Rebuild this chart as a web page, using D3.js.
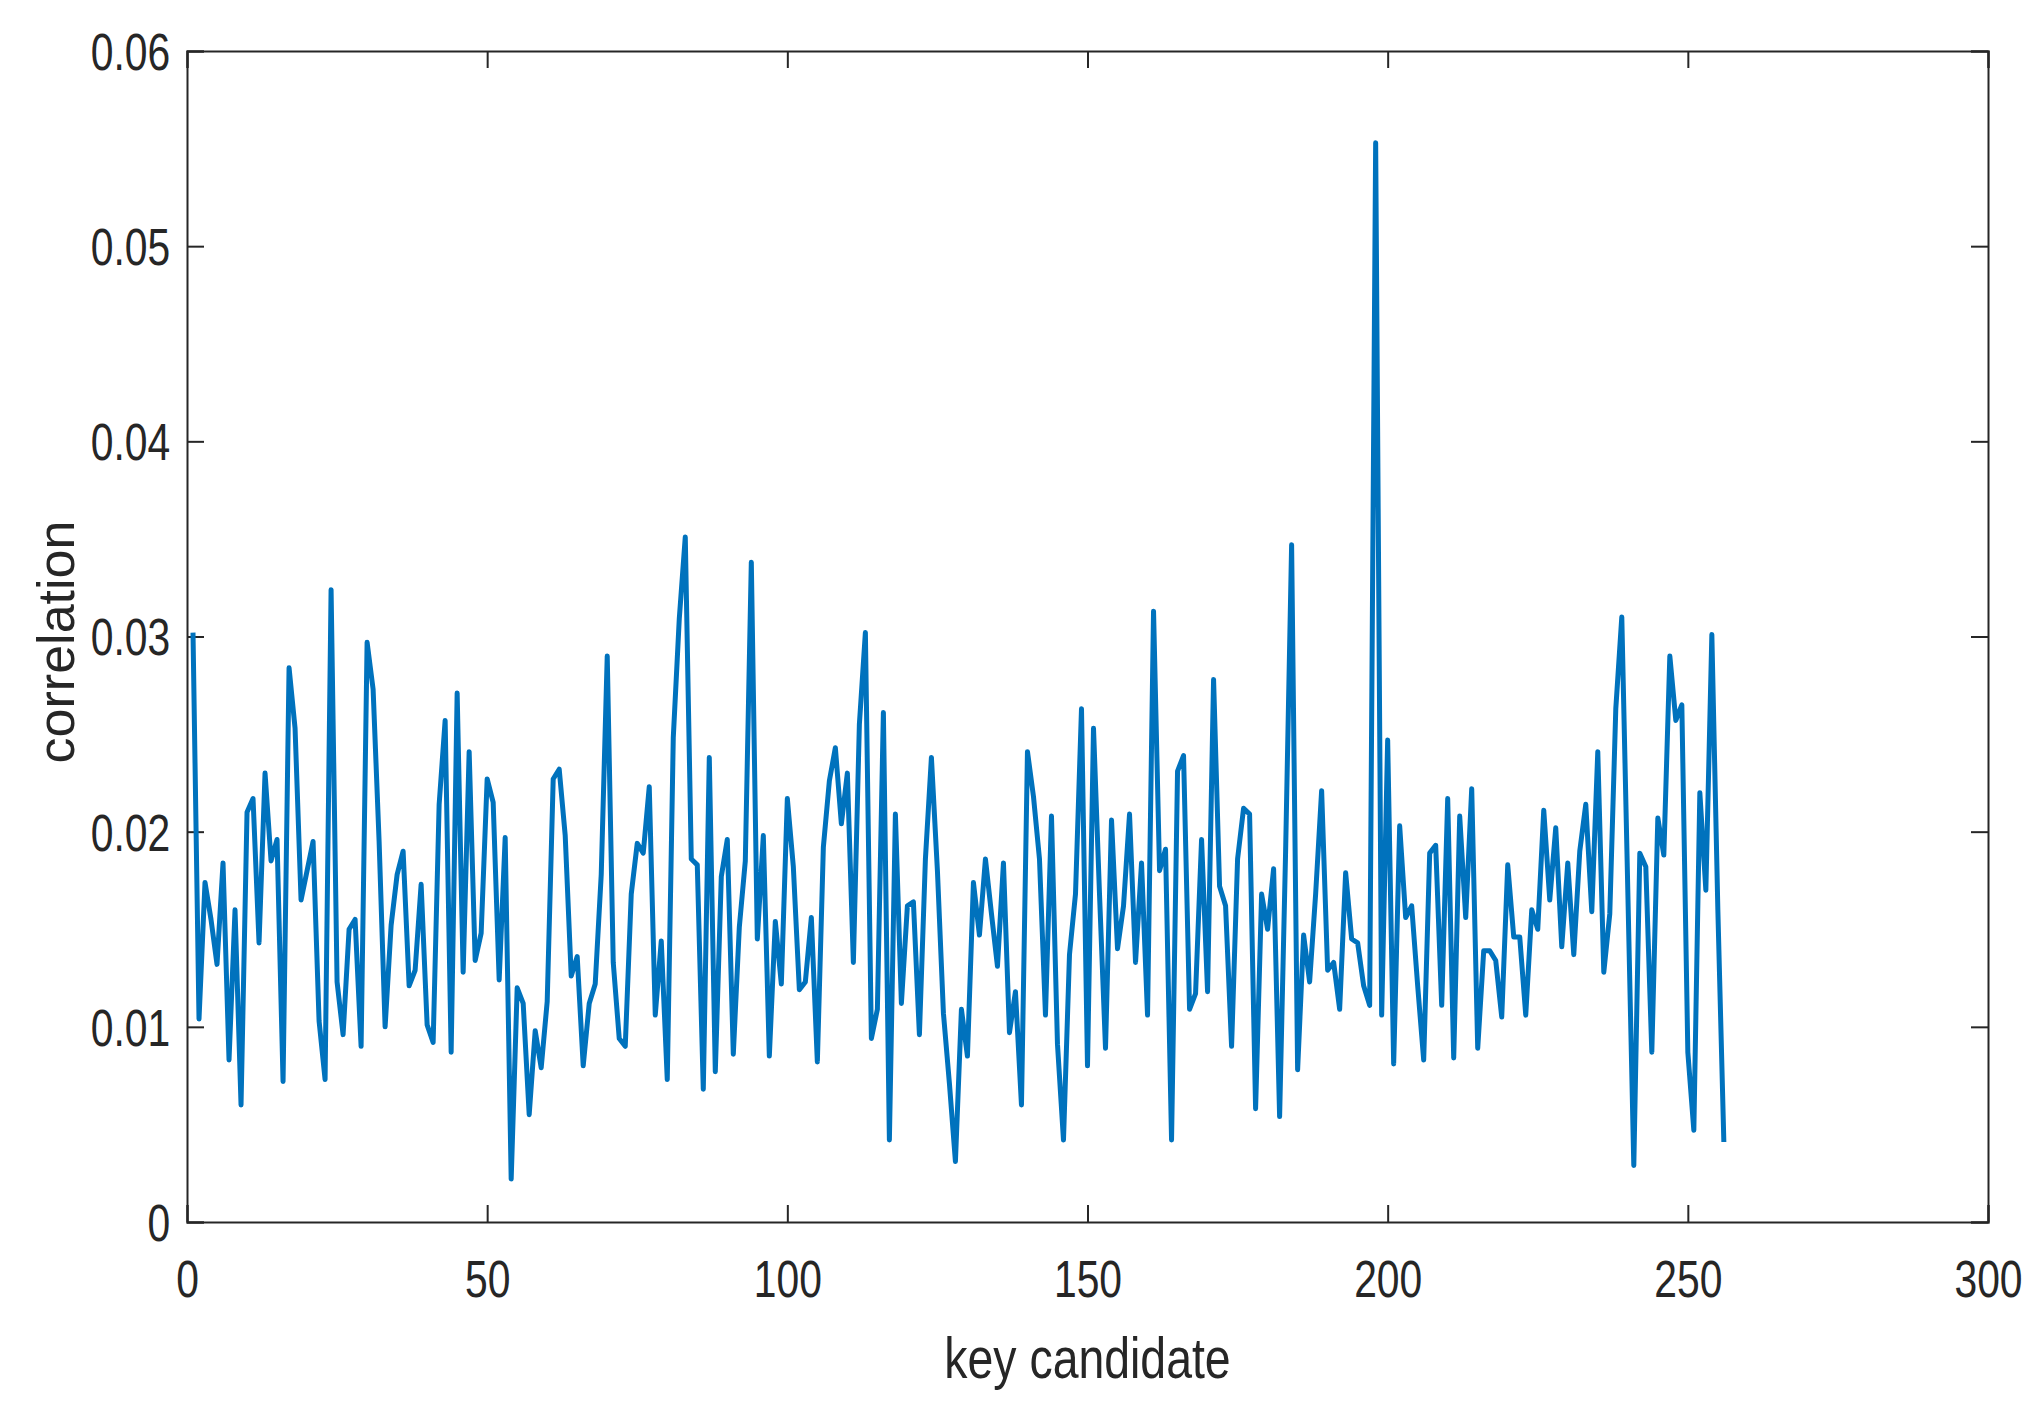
<!DOCTYPE html>
<html><head><meta charset="utf-8">
<script src="https://cdn.jsdelivr.net/npm/d3@7"></script>
<style>body{margin:0;background:#fff}svg{display:block}</style>
</head><body>
<script>
const values = [
0.0302,0.0104,0.0174,0.0155,0.0132,0.0184,0.0083,0.0160,0.0060,0.0210,
0.0217,0.0143,0.0230,0.0185,0.0196,0.0072,0.0284,0.0253,0.0165,0.0180,
0.0195,0.0103,0.0073,0.0324,0.0123,0.0096,0.0150,0.0155,0.0090,0.0297,
0.0273,0.0195,0.0100,0.0152,0.0178,0.0190,0.0121,0.0129,0.0173,0.0101,
0.0092,0.0214,0.0257,0.0087,0.0271,0.0128,0.0241,0.0134,0.0148,0.0227,
0.0215,0.0124,0.0197,0.0022,0.0120,0.0112,0.0055,0.0098,0.0079,0.0113,
0.0227,0.0232,0.0198,0.0126,0.0136,0.0080,0.0112,0.0122,0.0178,0.0290,
0.0133,0.0094,0.0090,0.0168,0.0194,0.0189,0.0223,0.0106,0.0144,0.0073,
0.0248,0.0309,0.0351,0.0186,0.0183,0.0068,0.0238,0.0077,0.0177,0.0196,
0.0086,0.0151,0.0185,0.0338,0.0145,0.0198,0.0085,0.0154,0.0122,0.0217,
0.0182,0.0119,0.0123,0.0156,0.0082,0.0192,0.0226,0.0243,0.0204,0.0230,
0.0133,0.0255,0.0302,0.0094,0.0109,0.0261,0.0042,0.0209,0.0112,0.0162,
0.0164,0.0096,0.0186,0.0238,0.0180,0.0107,0.0071,0.0031,0.0109,0.0085,
0.0174,0.0147,0.0186,0.0158,0.0131,0.0184,0.0097,0.0118,0.0060,0.0241,
0.0218,0.0186,0.0106,0.0208,0.0091,0.0042,0.0137,0.0168,0.0263,0.0080,
0.0253,0.0168,0.0089,0.0206,0.0140,0.0162,0.0209,0.0133,0.0184,0.0106,
0.0313,0.0180,0.0191,0.0042,0.0231,0.0239,0.0109,0.0117,0.0196,0.0118,
0.0278,0.0172,0.0162,0.0090,0.0186,0.0212,0.0209,0.0058,0.0168,0.0150,
0.0181,0.0054,0.0190,0.0347,0.0078,0.0147,0.0123,0.0168,0.0221,0.0129,
0.0133,0.0109,0.0179,0.0145,0.0143,0.0121,0.0111,0.0553,0.0106,0.0247,
0.0081,0.0203,0.0156,0.0162,0.0121,0.0083,0.0189,0.0193,0.0111,0.0217,
0.0084,0.0208,0.0156,0.0222,0.0089,0.0139,0.0139,0.0134,0.0105,0.0183,
0.0146,0.0146,0.0106,0.0160,0.0150,0.0211,0.0165,0.0202,0.0141,0.0184,
0.0137,0.0190,0.0214,0.0159,0.0241,0.0128,0.0158,0.0263,0.0310,0.0170,
0.0029,0.0189,0.0182,0.0087,0.0207,0.0188,0.0290,0.0257,0.0265,0.0087,
0.0047,0.0220,0.0170,0.0301,0.0160,0.0041];
const xTicks = [0,50,100,150,200,250,300];
const yTicks = [0,0.01,0.02,0.03,0.04,0.05,0.06];
const xLabel = "key candidate", yLabel = "correlation";

const W=2044,H=1404,L=187,R=1988,T=51,B=1222;
const svg=d3.select("body").append("svg").attr("width",W).attr("height",H);
const x=d3.scaleLinear().domain([0,300]).range([L,R]);
const y=d3.scaleLinear().domain([0,0.06]).range([B,T]);
const font='"Liberation Sans", Arial, sans-serif';
function style(g){g.select(".domain").attr("stroke","#262626").attr("stroke-width",2);
  g.selectAll(".tick line").attr("stroke","#262626").attr("stroke-width",2);}
const xa=svg.append("g").attr("transform",`translate(0,${B})`)
 .call(d3.axisBottom(x).tickValues(xTicks).tickSize(-17).tickPadding(0).tickFormat(d3.format("d")));
style(xa);
xa.selectAll(".tick text").attr("y",75).attr("dy",null).attr("font-size",51).attr("font-family",font)
 .attr("fill","#262626").attr("transform","scale(0.8,1)");
const ya=svg.append("g").attr("transform",`translate(${L},0)`)
 .call(d3.axisLeft(y).tickValues(yTicks).tickSize(-17).tickPadding(0).tickFormat(d=>d===0?"0":d3.format(".2f")(d)));
style(ya);
ya.selectAll(".tick text").attr("x",-21).attr("dy","0.36em").attr("font-size",51).attr("font-family",font)
 .attr("fill","#262626").attr("transform","scale(0.8,1)");
const xt=svg.append("g").attr("transform",`translate(0,${T})`)
 .call(d3.axisTop(x).tickValues(xTicks).tickSize(-17).tickFormat(""));style(xt);
const yr=svg.append("g").attr("transform",`translate(${R},0)`)
 .call(d3.axisRight(y).tickValues(yTicks).tickSize(-17).tickFormat(""));style(yr);

svg.append("path").datum(values)
 .attr("d",d3.line().x((d,i)=>x(i+1)).y(d=>y(d)))
 .attr("fill","none").attr("stroke","#0072BD").attr("stroke-width",5).attr("stroke-linejoin","round");

svg.append("text").attr("transform",`translate(${(L+R)/2},1378) scale(0.8,1)`).attr("text-anchor","middle")
 .attr("font-size",58).attr("font-family",font).attr("fill","#262626").text(xLabel);
svg.append("text").attr("transform",`translate(74,642) rotate(-90)`).attr("text-anchor","middle")
 .attr("font-size",52).attr("font-family",font).attr("fill","#262626").text(yLabel);
</script>
</body></html>
